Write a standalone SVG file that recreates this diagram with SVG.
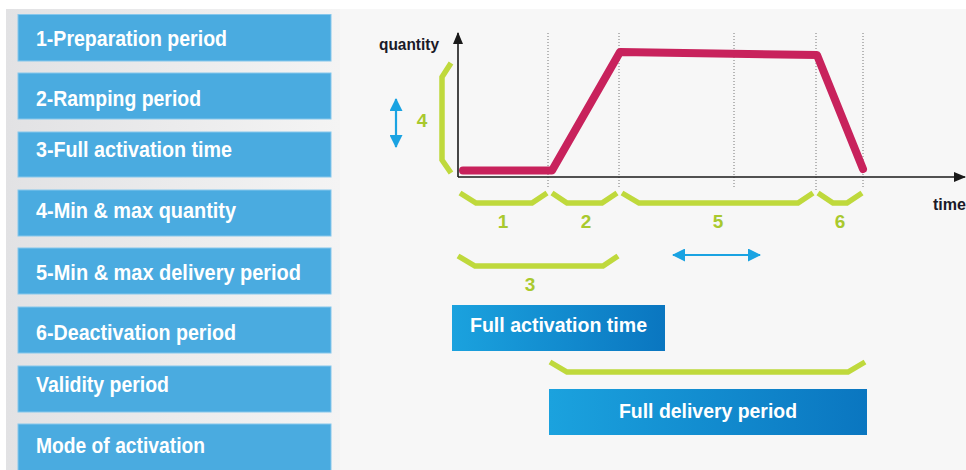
<svg xmlns="http://www.w3.org/2000/svg" width="966" height="470" viewBox="0 0 966 470">
<defs>
<linearGradient id="panel" x1="0" y1="0" x2="1" y2="0">
<stop offset="0" stop-color="#e2e2e4"/>
<stop offset="1" stop-color="#f4f4f4"/>
</linearGradient>
<linearGradient id="dark" x1="0" y1="0" x2="1" y2="0">
<stop offset="0" stop-color="#1ba2de"/>
<stop offset="1" stop-color="#0a76c0"/>
</linearGradient>
<marker id="ah" viewBox="0 0 12 10" refX="11" refY="5" markerWidth="12" markerHeight="10" markerUnits="userSpaceOnUse" orient="auto-start-reverse">
<path d="M0,0 L12,5 L0,10 z" fill="#1a1a1a"/>
</marker>
<marker id="bh" viewBox="0 0 13 13" refX="12" refY="6.5" markerWidth="13" markerHeight="13" markerUnits="userSpaceOnUse" orient="auto-start-reverse">
<path d="M0,0 L13,6.5 L0,13 z" fill="#1aa3e2"/>
</marker>
<style>
.lb{fill:#4aabe0;stroke:#86c7ec;stroke-width:1}
.lt{font-family:"Liberation Sans",Arial,sans-serif;font-weight:bold;font-size:22px;fill:#ffffff}
.bt{font-family:"Liberation Sans",Arial,sans-serif;font-weight:bold;font-size:21px;fill:#ffffff}
.ax{font-family:"Liberation Sans",Arial,sans-serif;font-weight:bold;font-size:16px;fill:#1a1a28}
.gn{font-family:"Liberation Sans",Arial,sans-serif;font-weight:bold;font-size:19px;fill:#a9c92e;text-anchor:middle}
.br{fill:none;stroke:#bfd93c;stroke-width:5.5;stroke-linejoin:miter}
.dot{stroke:#777777;stroke-width:1;stroke-dasharray:1 2}
</style>
</defs>
<rect x="0" y="0" width="966" height="470" fill="#ffffff"/>
<rect x="6" y="9" width="960" height="461" fill="#f7f7f7"/>
<rect x="6" y="9" width="334" height="461" fill="url(#panel)"/>

<g id="n1"><rect class="lb" x="18" y="14.5" width="313" height="46.5"/><text class="lt" x="36" y="46" textLength="191" lengthAdjust="spacingAndGlyphs">1-Preparation period</text></g>
<g id="n2"><rect class="lb" x="18" y="73" width="313" height="46"/><text class="lt" x="36" y="106" textLength="165" lengthAdjust="spacingAndGlyphs">2-Ramping period</text></g>
<g id="n3"><rect class="lb" x="18" y="132" width="313" height="45"/><text class="lt" x="36" y="157" textLength="196" lengthAdjust="spacingAndGlyphs">3-Full activation time</text></g>
<g id="n4"><rect class="lb" x="18" y="190" width="313" height="46"/><text class="lt" x="36" y="218" textLength="200" lengthAdjust="spacingAndGlyphs">4-Min &amp; max quantity</text></g>
<g id="n5"><rect class="lb" x="18" y="248" width="313" height="46"/><text class="lt" x="36" y="280" textLength="265" lengthAdjust="spacingAndGlyphs">5-Min &amp; max delivery period</text></g>
<g id="n6"><rect class="lb" x="18" y="307" width="313" height="46"/><text class="lt" x="36" y="340" textLength="200" lengthAdjust="spacingAndGlyphs">6-Deactivation period</text></g>
<g id="n7"><rect class="lb" x="18" y="366" width="313" height="46"/><text class="lt" x="36" y="392" textLength="133" lengthAdjust="spacingAndGlyphs">Validity period</text></g>
<g id="n8"><rect class="lb" x="18" y="424" width="313" height="50"/><text class="lt" x="36" y="453" textLength="169" lengthAdjust="spacingAndGlyphs">Mode of activation</text></g>

<g id="chart">
<line class="dot" x1="548" y1="33" x2="548" y2="188"/>
<line class="dot" x1="619" y1="33" x2="619" y2="188"/>
<line class="dot" x1="734" y1="33" x2="734" y2="188"/>
<line class="dot" x1="816" y1="33" x2="816" y2="190"/>
<line class="dot" x1="863" y1="33" x2="863" y2="188"/>
<polyline points="463,170.5 552,170.5 620,52 817,55 863,169" fill="none" stroke="#c8225c" stroke-width="8" stroke-linecap="round" stroke-linejoin="round"/>
<line x1="458" y1="177" x2="458" y2="33" stroke="#1a1a1a" stroke-width="1.6" marker-end="url(#ah)"/>
<line x1="458" y1="177" x2="965" y2="177" stroke="#1a1a1a" stroke-width="1.6" marker-end="url(#ah)"/>
<text class="ax" x="379" y="50" textLength="60" lengthAdjust="spacingAndGlyphs">quantity</text>
<text class="ax" x="933" y="210" textLength="33" lengthAdjust="spacingAndGlyphs">time</text>
<polyline class="br" points="451,63 442,77 442,160 451,173"/>
<polyline class="br" points="460,193 476,203 532,203 547,193"/>
<polyline class="br" points="552,193 567,203 602,203 617,193"/>
<polyline class="br" points="622,193 639,203 798,203 813,193"/>
<polyline class="br" points="818,193 833,203 847,203 862,193"/>
<polyline class="br" points="458,256 475,266 603,266 618,256"/>
<polyline class="br" points="550,362 567,372 848,372 865,362"/>
<text class="gn" x="422" y="127">4</text>
<text class="gn" x="503" y="228">1</text>
<text class="gn" x="586" y="228">2</text>
<text class="gn" x="718" y="228">5</text>
<text class="gn" x="840" y="228">6</text>
<text class="gn" x="530" y="291">3</text>
</g>

<g id="connectors">
<line x1="396" y1="99" x2="396" y2="147" stroke="#1aa3e2" stroke-width="2.2" marker-start="url(#bh)" marker-end="url(#bh)"/>
<line x1="673" y1="255" x2="760" y2="255" stroke="#1aa3e2" stroke-width="2.2" marker-start="url(#bh)" marker-end="url(#bh)"/>
</g>

<g id="fat"><rect x="452" y="305" width="213" height="46" fill="url(#dark)"/><text class="bt" x="470" y="332" textLength="177" lengthAdjust="spacingAndGlyphs">Full activation time</text></g>
<g id="fdp"><rect x="549" y="389" width="318" height="46" fill="url(#dark)"/><text class="bt" x="619" y="418" textLength="178" lengthAdjust="spacingAndGlyphs">Full delivery period</text></g>
</svg>
